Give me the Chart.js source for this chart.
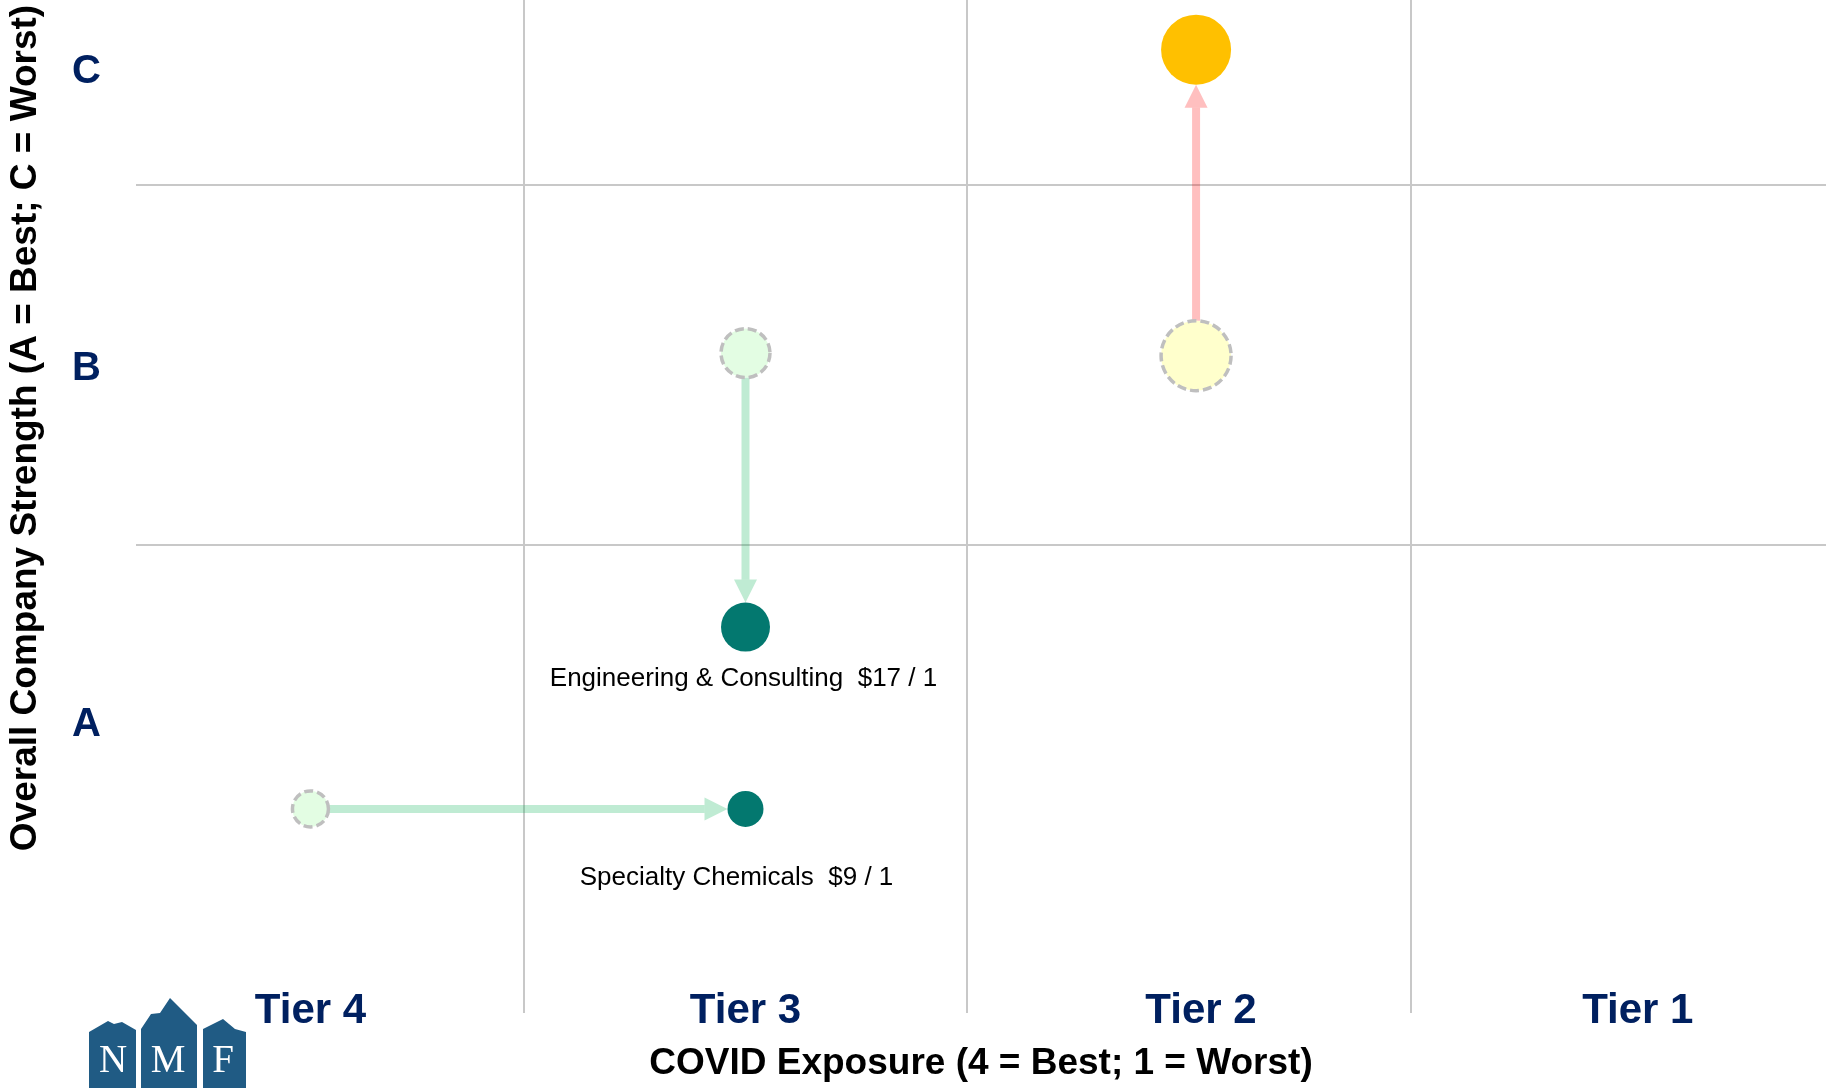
<!DOCTYPE html>
<html>
<head>
<meta charset="utf-8">
<title>COVID Exposure vs Overall Company Strength</title>
<script src="https://cdn.jsdelivr.net/npm/chart.js@4.4.1/dist/chart.umd.min.js"></script>
<style>
  html, body { margin: 0; padding: 0; background: #fff; }
  #wrap { width: 1826px; height: 1088px; position: relative; }
</style>
</head>
<body>
<div id="wrap"><canvas id="matrix"></canvas></div>
<script>
// ----------------------------------------------------------
// DATA
// ----------------------------------------------------------
const sectors = ["Specialty Chemicals", "Engineering & Consulting", ""];
const multiples = ["$9 / 1", "$17 / 1", ""];
const exposureBefore = [3.98, 3.0, 1.985];
const exposureAfter = [3.0, 3.0, 1.985];
const strengthBefore = [0.767, 2.033, 2.026];
const strengthAfter = [0.767, 1.272, 2.876];
const bubbleSize = [18, 24.5, 35];

const tierTicks = [3.98, 3.0, 1.974, 0.99];
const tierLabels = ["Tier 4", "Tier 3", "Tier 2", "Tier 1"];
const tierDividers = [3.5, 2.5, 1.5];

const ratingTicks = [1, 1.99, 2.815];
const ratingLabels = ["A", "B", "C"];
const ratingDividers = [1.5, 2.5];

// ----------------------------------------------------------
// STYLE
// ----------------------------------------------------------
const FONT = "'Liberation Sans', Arial, Helvetica, sans-serif";
const NAVY = "#002060";
const GRID = "#c8c8c8";
const beforeFill = ["#e3fde3", "#e3fde3", "#ffffcc"];
const afterFill = ["#03786f", "#03786f", "#ffc000"];
const arrowColor = ["rgba(0,176,80,0.25)", "rgba(0,176,80,0.25)", "rgba(255,0,0,0.25)"];
const labelShift = [[-9, 69], [-2, 52], [0, 0]];

function dividerColor(list) {
    return (ctx) => (ctx.tick && list.includes(ctx.tick.value)) ? GRID : "rgba(0,0,0,0)";
}

// ----------------------------------------------------------
// PLUGINS
// ----------------------------------------------------------
const dashedBefore = {
    id: "dashedBefore",
    beforeDatasetDraw(chart, args) {
        if (args.index === 0) chart.ctx.setLineDash([9, 4]);
    },
    afterDatasetDraw(chart, args) {
        if (args.index === 0) chart.ctx.setLineDash([]);
    }
};

const moveArrows = {
    id: "moveArrows",
    beforeDatasetsDraw(chart) {
        const ctx = chart.ctx;
        const from = chart.getDatasetMeta(0).data;
        const to = chart.getDatasetMeta(1).data;
        const headLen = 23, headHalf = 11.5;
        ctx.save();
        from.forEach((p, i) => {
            const q = to[i];
            const dx = q.x - p.x, dy = q.y - p.y;
            const len = Math.hypot(dx, dy);
            if (len < 1) return;
            const ux = dx / len, uy = dy / len;
            const sx = p.x + ux * bubbleSize[i], sy = p.y + uy * bubbleSize[i];
            const tipX = q.x - ux * bubbleSize[i], tipY = q.y - uy * bubbleSize[i];
            const bx = tipX - ux * headLen, by = tipY - uy * headLen;
            ctx.strokeStyle = arrowColor[i];
            ctx.fillStyle = arrowColor[i];
            ctx.lineWidth = 8;
            ctx.lineCap = "butt";
            ctx.beginPath();
            ctx.moveTo(sx, sy);
            ctx.lineTo(bx, by);
            ctx.stroke();
            ctx.beginPath();
            ctx.moveTo(tipX, tipY);
            ctx.lineTo(bx - uy * headHalf, by + ux * headHalf);
            ctx.lineTo(bx + uy * headHalf, by - ux * headHalf);
            ctx.closePath();
            ctx.fill();
        });
        ctx.restore();
    }
};

const sectorLabels = {
    id: "sectorLabels",
    afterDatasetsDraw(chart) {
        const ctx = chart.ctx;
        const pts = chart.getDatasetMeta(1).data;
        ctx.save();
        ctx.font = "26px " + FONT;
        ctx.fillStyle = "#000";
        ctx.textAlign = "center";
        ctx.textBaseline = "middle";
        pts.forEach((p, i) => {
            if (!sectors[i]) return;
            ctx.fillText(sectors[i] + "  " + multiples[i], p.x + labelShift[i][0], p.y + labelShift[i][1]);
        });
        ctx.restore();
    }
};

const nmfLogo = {
    id: "nmfLogo",
    afterDraw(chart) {
        const ctx = chart.ctx;
        const shapes = [
            [[89, 1032], [108, 1021], [114, 1024], [122, 1022], [136, 1030], [136, 1088], [89, 1088]],
            [[141, 1029], [151, 1014], [160, 1013], [170, 998], [197, 1025], [197, 1088], [141, 1088]],
            [[203, 1029], [223, 1019], [235, 1029], [246, 1032], [246, 1088], [203, 1088]]
        ];
        ctx.save();
        ctx.fillStyle = "#205b84";
        shapes.forEach(s => {
            ctx.beginPath();
            s.forEach((pt, k) => k ? ctx.lineTo(pt[0], pt[1]) : ctx.moveTo(pt[0], pt[1]));
            ctx.closePath();
            ctx.fill();
        });
        ctx.fillStyle = "#fff";
        ctx.font = "39px 'Liberation Serif', 'Times New Roman', serif";
        ctx.textAlign = "center";
        ctx.textBaseline = "middle";
        ctx.fillText("N", 113, 1062);
        ctx.fillText("M", 168, 1062);
        ctx.fillText("F", 223, 1062);
        ctx.restore();
    }
};

// ----------------------------------------------------------
// CHART
// ----------------------------------------------------------
new Chart(document.getElementById("matrix"), {
    type: "bubble",
    data: {
        datasets: [
            {
                label: "Before",
                data: exposureBefore.map((x, i) => ({ x: x, y: strengthBefore[i], r: bubbleSize[i] })),
                backgroundColor: beforeFill,
                borderColor: "#bfbfbf",
                borderWidth: 3.5,
                clip: false
            },
            {
                label: "After",
                data: exposureAfter.map((x, i) => ({ x: x, y: strengthAfter[i], r: bubbleSize[i] })),
                backgroundColor: afterFill,
                borderWidth: 0,
                clip: false
            }
        ]
    },
    options: {
        responsive: true,
        maintainAspectRatio: false,
        animation: false,
        events: [],
        layout: { padding: 0, autoPadding: false },
        plugins: {
            legend: { display: false },
            tooltip: { enabled: false }
        },
        scales: {
            x: {
                type: "linear",
                reverse: true,
                min: 0.566,
                max: 4.373,
                afterBuildTicks(scale) {
                    scale.ticks = tierTicks.concat(tierDividers).sort((a, b) => a - b).map(v => ({ value: v }));
                },
                afterFit(scale) {
                    scale.height = 232;
                    scale.paddingLeft = 0;
                    scale.paddingRight = 0;
                },
                border: { display: false },
                grid: {
                    color: dividerColor(tierDividers),
                    tickColor: dividerColor(tierDividers),
                    lineWidth: 2,
                    drawTicks: true,
                    tickLength: 157
                },
                ticks: {
                    autoSkip: false,
                    maxRotation: 0,
                    minRotation: 0,
                    padding: -27,
                    color: NAVY,
                    font: { family: FONT, size: 42, weight: "bold" },
                    callback(v) {
                        const i = tierTicks.indexOf(v);
                        return i < 0 ? "" : tierLabels[i];
                    }
                },
                title: {
                    display: true,
                    text: "COVID Exposure (4 = Best; 1 = Worst)",
                    color: "#000",
                    font: { family: FONT, size: 37, weight: "bold" },
                    padding: { top: 0, bottom: 2 }
                }
            },
            y: {
                type: "linear",
                min: 0.6361,
                max: 3.0139,
                afterBuildTicks(scale) {
                    scale.ticks = ratingTicks.concat(ratingDividers).sort((a, b) => a - b).map(v => ({ value: v }));
                },
                afterFit(scale) {
                    scale.width = 136;
                    scale.paddingTop = 0;
                    scale.paddingBottom = 0;
                },
                border: { display: false },
                grid: {
                    color: dividerColor(ratingDividers),
                    lineWidth: 2,
                    drawTicks: false
                },
                ticks: {
                    autoSkip: false,
                    padding: 35,
                    color: NAVY,
                    font: { family: FONT, size: 40, weight: "bold" },
                    callback(v) {
                        const i = ratingTicks.indexOf(v);
                        return i < 0 ? "" : ratingLabels[i];
                    }
                },
                title: {
                    display: true,
                    text: "Overall Company Strength (A = Best; C = Worst)",
                    color: "#000",
                    font: { family: FONT, size: 37, weight: "bold" },
                    padding: { top: 4, bottom: 0 }
                }
            }
        }
    },
    plugins: [dashedBefore, moveArrows, sectorLabels, nmfLogo]
});
</script>
</body>
</html>
